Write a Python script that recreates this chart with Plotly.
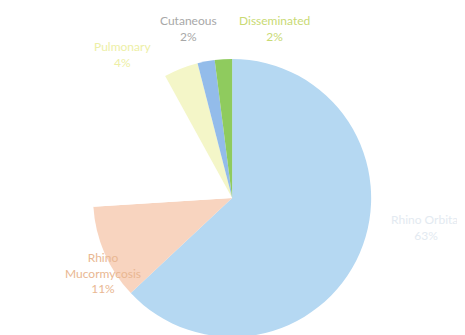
import plotly.graph_objects as go

labels = ["Rhino Orbital", "Rhino Mucormycosis", "Rhino Orbito Cerebral", "Pulmonary", "Cutaneous", "Disseminated"]
values = [63, 11, 18, 4, 2, 2]
colors = ["#B5D8F2", "#F8D4BF", "#FFFFFF", "#F4F6C8", "#93BCEA", "#8FCB5E"]
label_colors = ["#E3EAF1", "#E9B792", "#FFFFFF", "#EDEFA6", "#A8A8A8", "#C9DA74"]
show_label = [True, True, False, True, True, True]
# annotation centre positions (paper coords)
label_pos = [(0.898, 0.346), (0.205, 0.21), (0.05, 0.6), (0.247, 0.86), (0.389, 0.94), (0.574, 0.94)]

fig = go.Figure(go.Pie(
    labels=labels, values=values, sort=False, direction="clockwise", rotation=0,
    marker=dict(colors=colors, line=dict(width=0)),
    textinfo="none", hoverinfo="label+percent",
    domain=dict(x=[0.183, 0.781], y=[0.018, 0.848]),
    showlegend=False,
))

total = sum(values)
for lab, v, c, s, (x, y) in zip(labels, values, label_colors, show_label, label_pos):
    if not s:
        continue
    name = lab.replace(" ", "<br>") if lab == "Rhino Mucormycosis" else lab
    fig.add_annotation(
        x=x, y=y, xref="paper", yref="paper", showarrow=False,
        xanchor="center", yanchor="middle",
        text=f"{name}<br>{round(100 * v / total)}%",
        font=dict(family="Lato", size=12, color=c), align="center",
    )

fig.update_layout(
    width=465, height=335, margin=dict(l=0, r=0, t=0, b=0),
    paper_bgcolor="white", plot_bgcolor="white",
)
fig.write_html("out.html")
